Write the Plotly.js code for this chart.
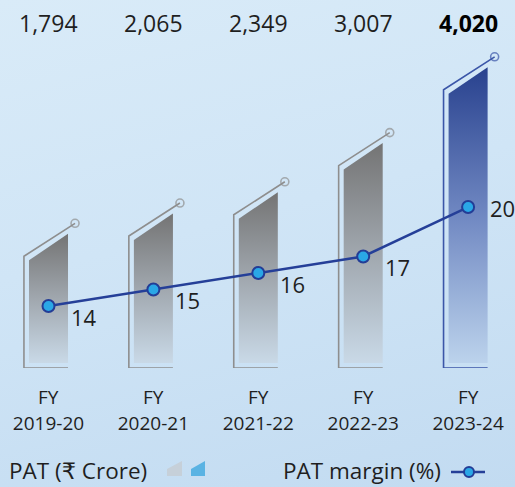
<!DOCTYPE html>
<html><head><meta charset="utf-8">
<script src="https://cdn.plot.ly/plotly-3.0.1.min.js"></script>
<style>
html,body{margin:0;padding:0;}
body{width:515px;height:487px;background:linear-gradient(165deg,#d9ebf8 0%,#d0e5f6 45%,#c2dbf1 100%);overflow:hidden}
#chart{width:515px;height:487px}
</style></head><body><div id="chart"></div>
<script>
// ---- data ----
const years = ['2019-20','2020-21','2021-22','2022-23','2023-24'];
const fyPrefix = 'FY';
const patValues = [1794, 2065, 2349, 3007, 4020];
const patLabels = ['1,794','2,065','2,349','3,007','4,020'];
const marginValues = [14, 15, 16, 17, 20];
const marginLabels = ['14','15','16','17','20'];
const legendPat = 'PAT (₹ Crore)';
const legendMargin = 'PAT margin (%)';

// ---- layout helpers ----
const W = 515, H = 487, PLOT_H = 368;
const pxPerUnitY = 0.0748;
const U = 1 / pxPerUnitY;
const HALF = 0.186, OUT_L = 0.234, OUT_R = 0.253;
const SLANT = 26.5 * U, OUT_TOP = 4 * U, CIRC_UP = 10.5 * U, FILL_BOT = 5 * U;
const py = p => 1 - p / PLOT_H;
const px = p => p / W;
const FONT = '"Open Sans", "DejaVu Sans", sans-serif';
const TXT = '#1f1f1f';
const idx = years.map((_, i) => i);

const traces = [];
patValues.forEach((v, i) => {
  const last = i === patValues.length - 1;
  traces.push({
    type: 'scatter', mode: 'lines',
    x: [i - HALF, i + HALF, i + HALF, i - HALF, i - HALF],
    y: [FILL_BOT, FILL_BOT, v, v - SLANT, FILL_BOT],
    fill: 'toself',
    line: {width: 0, color: 'rgba(0,0,0,0)'},
    fillgradient: {type: 'vertical',
      colorscale: last ? [[0, '#bcd3ec'], [0.5, '#7088c2'], [1, '#28418e']]
                       : [[0, '#c9d9e7'], [0.5, '#a0a7ae'], [1, '#747474']]},
    hoverinfo: 'skip', showlegend: false
  });
  const oc = last ? '#3b56a8' : '#8e8e8e';
  traces.push({
    type: 'scatter', mode: 'lines+markers',
    x: [i + HALF, i - OUT_L, i - OUT_L, i + OUT_R],
    y: [0, 0, v - SLANT + OUT_TOP, v + CIRC_UP],
    line: {color: oc, width: 1.6},
    marker: {size: [0, 0, 0, 8], symbol: 'circle-open', color: oc, line: {width: 1.6}},
    hoverinfo: 'skip', showlegend: false, cliponaxis: false
  });
});

traces.push({
  type: 'scatter', mode: 'lines+markers', name: legendMargin,
  x: idx, y: marginValues, yaxis: 'y2',
  line: {color: '#253f98', width: 2.5},
  marker: {size: 12, color: '#2aa7e6', line: {color: '#233d96', width: 2}},
  showlegend: false, cliponaxis: false
});

const annotations = [];
patLabels.forEach((t, i) => {
  const last = i === patLabels.length - 1;
  annotations.push({x: i, xref: 'x', y: py(23), yref: 'paper', yanchor: 'middle',
    text: last ? '<b>' + t + '</b>' : t, showarrow: false,
    font: {size: 23, color: last ? '#000' : TXT, family: FONT}});
  annotations.push({x: i, xref: 'x', y: py(397), yref: 'paper', yanchor: 'middle',
    text: fyPrefix, showarrow: false, font: {size: 19, color: TXT, family: FONT}});
});
marginLabels.forEach((t, i) => {
  const last = i === marginLabels.length - 1;
  annotations.push({x: i, xref: 'x', y: marginValues[i], yref: 'y2',
    xanchor: 'left', yanchor: 'middle', xshift: 20, yshift: last ? -1 : -11,
    text: t, showarrow: false, font: {size: 22, color: TXT, family: FONT}});
});
annotations.push({x: px(7), xref: 'paper', y: py(470), yref: 'paper', xanchor: 'left', yanchor: 'middle',
  text: legendPat, showarrow: false, font: {size: 22.5, color: TXT, family: FONT}});
annotations.push({x: px(281), xref: 'paper', y: py(470), yref: 'paper', xanchor: 'left', yanchor: 'middle',
  text: legendMargin, showarrow: false, font: {size: 22.5, color: TXT, family: FONT}});

const P = (pts) => 'M ' + pts.map(p => px(p[0]) + ',' + py(p[1])).join(' L ') + ' Z';
const shapes = [
  {type: 'path', xref: 'paper', yref: 'paper', path: P([[167,476],[182,476],[182,461],[167,469]]),
   fillcolor: '#c6d0d9', line: {width: 0}},
  {type: 'path', xref: 'paper', yref: 'paper', path: P([[191,476],[205,476],[205,461],[191,469]]),
   fillcolor: '#5ab3e3', line: {width: 0}},
  {type: 'line', xref: 'paper', yref: 'paper', x0: px(451), x1: px(485), y0: py(472), y1: py(472),
   line: {color: '#253f98', width: 2.5}},
  {type: 'circle', xref: 'paper', yref: 'paper', x0: px(464), x1: px(474), y0: py(477), y1: py(467),
   fillcolor: '#2aa7e6', line: {color: '#233d96', width: 2}}
];

const layout = {
  width: W, height: H,
  margin: {l: 0, r: 0, t: 0, b: H - PLOT_H, pad: 0},
  paper_bgcolor: 'rgba(0,0,0,0)', plot_bgcolor: 'rgba(0,0,0,0)',
  showlegend: false,
  font: {family: FONT, color: TXT},
  xaxis: {range: [-48.5/104.9, (W-48.5)/104.9], tickvals: idx, ticktext: years,
    showgrid: false, zeroline: false, showline: false, ticks: '',
    tickfont: {size: 19, color: TXT, family: FONT}, ticklabelstandoff: 42, fixedrange: true},
  yaxis: {range: [0, PLOT_H * U], visible: false, fixedrange: true},
  yaxis2: {range: [10.24, 32.55], overlaying: 'y', visible: false, fixedrange: true},
  annotations: annotations, shapes: shapes
};
Plotly.newPlot('chart', traces, layout, {displayModeBar: false, staticPlot: true});
</script></body></html>
